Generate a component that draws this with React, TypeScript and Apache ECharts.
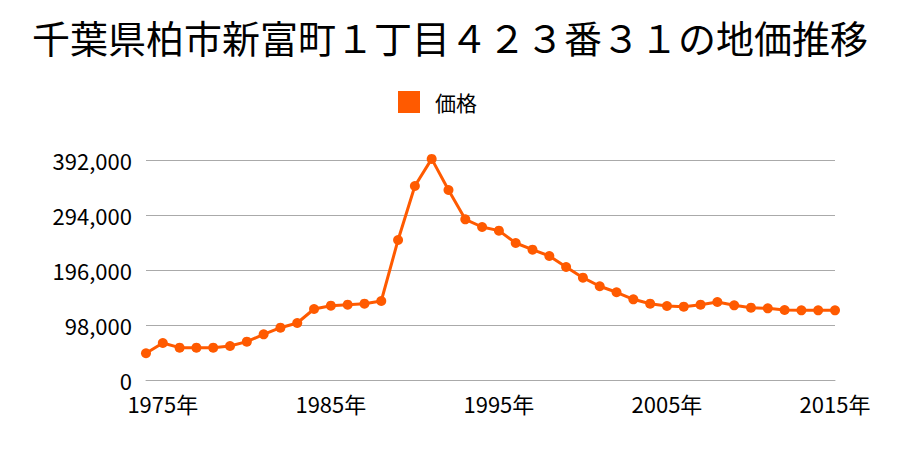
import React, { useEffect, useRef } from "react";
import * as echarts from "echarts";

const years: string[] = [
  "1974", "1975", "1976", "1977", "1978", "1979", "1980", "1981", "1982", "1983",
  "1984", "1985", "1986", "1987", "1988", "1989", "1990", "1991", "1992", "1993",
  "1994", "1995", "1996", "1997", "1998", "1999", "2000", "2001", "2002", "2003",
  "2004", "2005", "2006", "2007", "2008", "2009", "2010", "2011", "2012", "2013",
  "2014", "2015",
];

const prices: number[] = [
  47600, 66000, 57600, 57600, 57600, 60600, 68300, 81400, 93200, 101600,
  126500, 132400, 134200, 136000, 140800, 249500, 345700, 394000, 338600, 286300,
  272600, 266100, 244100, 232200, 221000, 201400, 182300, 167000, 156300, 143800,
  136000, 131900, 130600, 134200, 139000, 133100, 128900, 127700, 124700, 124200,
  124200, 124200,
];

const titleText = "千葉県柏市新富町１丁目４２３番３１の地価推移";
const seriesName = "価格";
const yMax = 392000;
const yStep = 98000;

const FONT = "'Noto Sans CJK JP', 'Noto Sans', sans-serif";

export default function App() {
  const ref = useRef<HTMLDivElement>(null);
  useEffect(() => {
    document.body.style.margin = "0";
    if (!ref.current) return;
    const chart = echarts.init(ref.current, undefined, { renderer: "svg" });
    chart.setOption({
      animation: false,
      backgroundColor: "#ffffff",
      textStyle: { fontFamily: FONT },
      title: {
        text: titleText,
        left: "center",
        top: 12,
        textStyle: { fontSize: 38, fontWeight: "normal", color: "#000", fontFamily: FONT },
      },
      legend: {
        top: 86,
        left: 393,
        icon: "rect",
        itemWidth: 22,
        itemHeight: 22,
        itemGap: 10,
        textStyle: { fontSize: 21, color: "#000", fontFamily: FONT, padding: [0, 0, 0, 10] },
        data: [seriesName],
      },
      grid: { left: 146, right: 65, top: 160, bottom: 70 },
      xAxis: {
        type: "category",
        data: years,
        boundaryGap: false,
        axisTick: { show: false },
        axisLine: { show: true, lineStyle: { color: "#aaaaaa", width: 1 } },
        axisLabel: {
          interval: (i: number) => (i - 1) % 10 === 0,
          formatter: (v: string) => v + "年",
          fontSize: 22,
          lineHeight: 22,
          color: "#000",
          margin: 12,
          fontFamily: FONT,
        },
      },
      yAxis: {
        type: "value",
        min: 0,
        max: yMax,
        interval: yStep,
        axisLine: { show: false },
        axisTick: { show: false },
        splitLine: { lineStyle: { color: "#aaaaaa", width: 1 } },
        axisLabel: {
          fontSize: 22,
          lineHeight: 16,
          color: "#000",
          margin: 14,
          fontFamily: FONT,
          formatter: (v: number) => v.toLocaleString("en-US"),
        },
      },
      series: [
        {
          name: seriesName,
          type: "line",
          data: prices,
          clip: false,
          color: "#ff5a00",
          symbol: "circle",
          symbolSize: 10,
          lineStyle: { width: 3, color: "#ff5a00" },
          itemStyle: { color: "#ff5a00" },
        },
      ],
    });
    return () => chart.dispose();
  }, []);
  return <div ref={ref} style={{ width: 900, height: 450 }} />;
}
